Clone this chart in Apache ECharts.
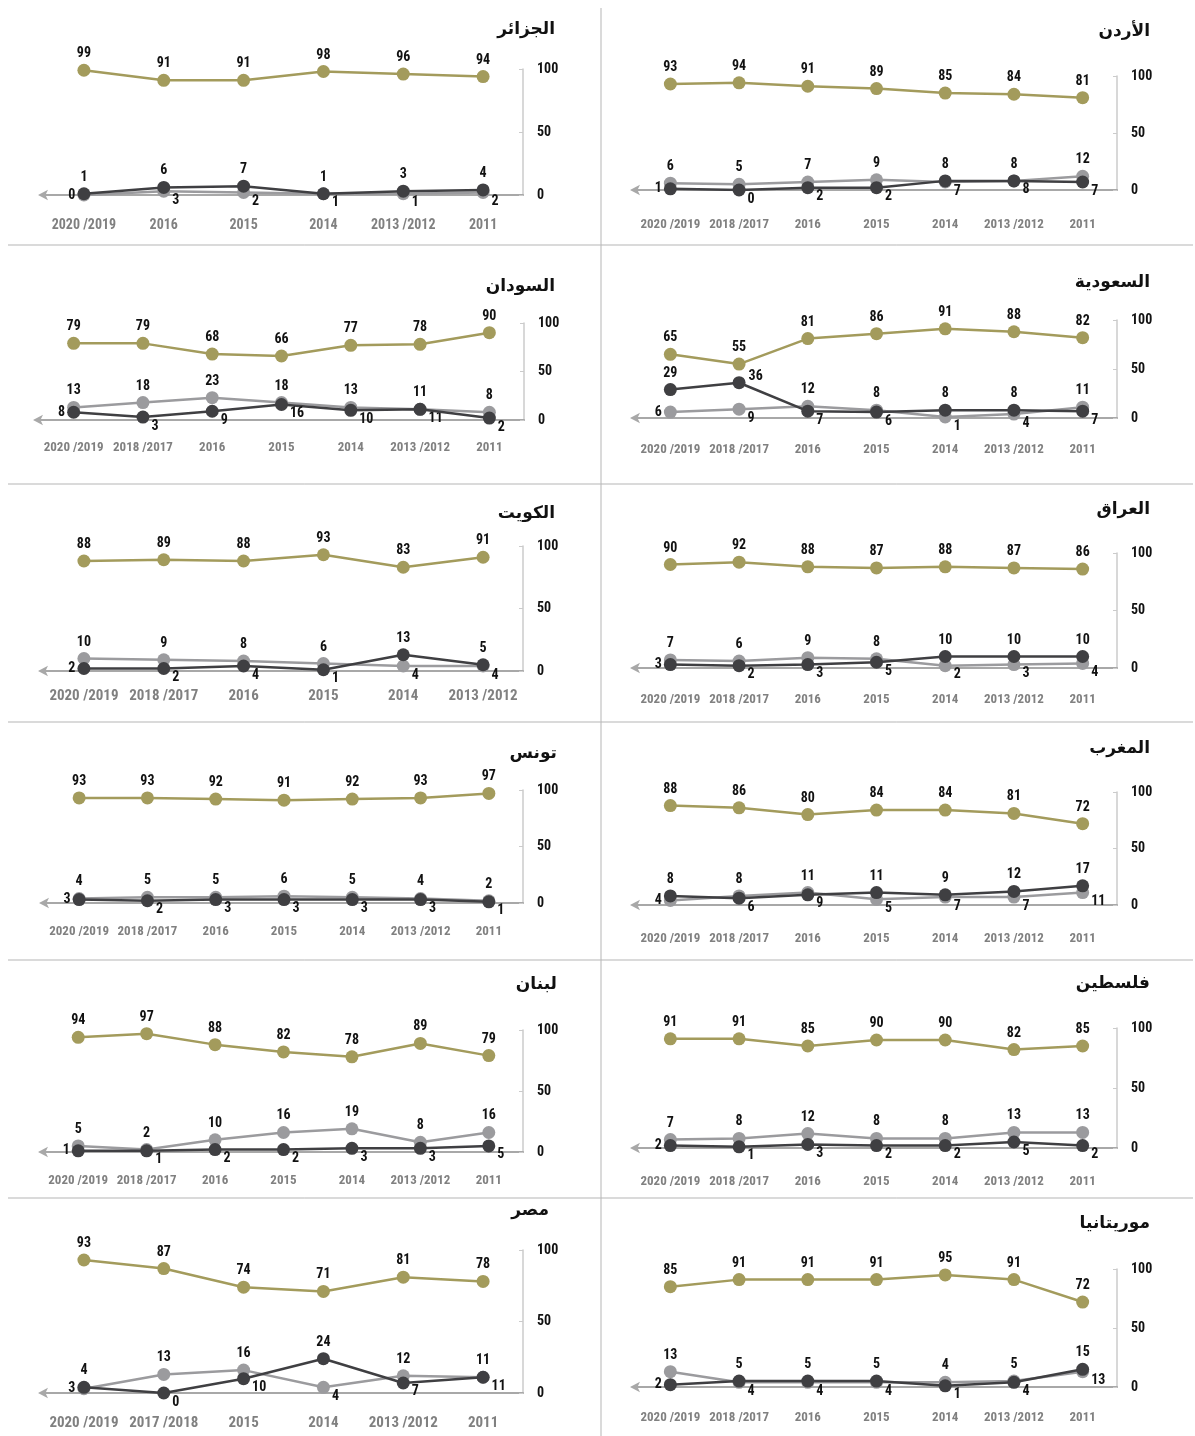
<!DOCTYPE html>
<html><head><meta charset="utf-8">
<script src="https://cdn.jsdelivr.net/npm/echarts@6/dist/echarts.min.js"></script>
<style>html,body{margin:0;padding:0;background:#fff}#c{width:1195px;height:1436px}</style>
</head><body><div id="c"></div>
<script>
// ---- categories ----
const cats7 = ['2020 /2019','2018 /2017','2016','2015','2014','2013 /2012','2011'];
const catsAlgeria = ['2020 /2019','2016','2015','2014','2013 /2012','2011'];
const catsKuwait = ['2020 /2019','2018 /2017','2016','2015','2014','2013 /2012'];
const catsEgypt = ['2020 /2019','2017 /2018','2015','2014','2013 /2012','2011'];
const yTicks = [0, 50, 100];

// ---- series values (olive / light gray / dark gray) ----
const algeriaOlive = [99,91,91,98,96,94];
const algeriaLight = [0,3,2,1,1,2];
const algeriaDark  = [1,6,7,1,3,4];

const jordanOlive = [93,94,91,89,85,84,81];
const jordanLight = [6,5,7,9,7,8,12];
const jordanDark  = [1,0,2,2,8,8,7];

const sudanOlive = [79,79,68,66,77,78,90];
const sudanLight = [13,18,23,18,13,11,8];
const sudanDark  = [8,3,9,16,10,11,2];

const saudiOlive = [65,55,81,86,91,88,82];
const saudiLight = [6,9,12,8,1,4,11];
const saudiDark  = [29,36,7,6,8,8,7];

const kuwaitOlive = [88,89,88,93,83,91];
const kuwaitLight = [10,9,8,6,4,4];
const kuwaitDark  = [2,2,4,1,13,5];

const iraqOlive = [90,92,88,87,88,87,86];
const iraqLight = [7,6,9,8,2,3,4];
const iraqDark  = [3,2,3,5,10,10,10];

const tunisiaOlive = [93,93,92,91,92,93,97];
const tunisiaLight = [4,5,5,6,5,4,2];
const tunisiaDark  = [3,2,3,3,3,3,1];

const moroccoOlive = [88,86,80,84,84,81,72];
const moroccoLight = [4,8,11,5,7,7,11];
const moroccoDark  = [8,6,9,11,9,12,17];

const lebanonOlive = [94,97,88,82,78,89,79];
const lebanonLight = [5,2,10,16,19,8,16];
const lebanonDark  = [1,1,2,2,3,3,5];

const palestineOlive = [91,91,85,90,90,82,85];
const palestineLight = [7,8,12,8,8,13,13];
const palestineDark  = [2,1,3,2,2,5,2];

const egyptOlive = [93,87,74,71,81,78];
const egyptLight = [3,13,16,4,12,11];
const egyptDark  = [4,0,10,24,7,11];

const mauritaniaOlive = [85,91,91,91,95,91,72];
const mauritaniaLight = [13,4,4,4,4,5,13];
const mauritaniaDark  = [2,5,5,5,1,4,15];

// ---- panels (data) ----
const panels = [
  {name:'الجزائر', cats:catsAlgeria, olive:algeriaOlive, light:algeriaLight, dark:algeriaDark},
  {name:'الأردن', cats:cats7, olive:jordanOlive, light:jordanLight, dark:jordanDark},
  {name:'السودان', cats:cats7, olive:sudanOlive, light:sudanLight, dark:sudanDark},
  {name:'السعودية', cats:cats7, olive:saudiOlive, light:saudiLight, dark:saudiDark},
  {name:'الكويت', cats:catsKuwait, olive:kuwaitOlive, light:kuwaitLight, dark:kuwaitDark},
  {name:'العراق', cats:cats7, olive:iraqOlive, light:iraqLight, dark:iraqDark},
  {name:'تونس', cats:cats7, olive:tunisiaOlive, light:tunisiaLight, dark:tunisiaDark},
  {name:'المغرب', cats:cats7, olive:moroccoOlive, light:moroccoLight, dark:moroccoDark},
  {name:'لبنان', cats:cats7, olive:lebanonOlive, light:lebanonLight, dark:lebanonDark},
  {name:'فلسطين', cats:cats7, olive:palestineOlive, light:palestineLight, dark:palestineDark},
  {name:'مصر', cats:catsEgypt, olive:egyptOlive, light:egyptLight, dark:egyptDark},
  {name:'موريتانيا', cats:cats7, olive:mauritaniaOlive, light:mauritaniaLight, dark:mauritaniaDark}
];

// ---- layout (positions / styles only) ----
const layout = [
  {x0:44, x1:523, y100:69, y0:195, tx:560, ty:28, gap:30, cf:14},
  {x0:636, x1:1117, y100:76, y0:190, tx:1155, ty:30, gap:35, cf:13},
  {x0:39, x1:524, y100:323, y0:420, tx:560, ty:285, gap:28, cf:13},
  {x0:636, x1:1117, y100:320, y0:418, tx:1155, ty:281, gap:32, cf:13},
  {x0:44, x1:523, y100:546, y0:671, tx:560, ty:512, gap:25, cf:15},
  {x0:636, x1:1117, y100:553, y0:668, tx:1155, ty:508, gap:32, cf:13},
  {x0:45, x1:523, y100:790, y0:903, tx:562, ty:752, gap:29, cf:13},
  {x0:636, x1:1117, y100:792, y0:905, tx:1155, ty:747, gap:34, cf:13},
  {x0:44, x1:523, y100:1030, y0:1152, tx:562, ty:983, gap:29, cf:13},
  {x0:636, x1:1117, y100:1028, y0:1148, tx:1155, ty:982, gap:34, cf:13},
  {x0:44, x1:523, y100:1250, y0:1393, tx:554, ty:1209, gap:30, cf:15},
  {x0:636, x1:1117, y100:1269, y0:1387, tx:1155, ty:1222, gap:31, cf:13}
];

const OLIVE = '#a39b5c', LIGHT = '#9b9b9e', DARK = '#3f3f42';
const NUMFONT = "'Liberation Sans Narrow','Roboto Condensed','Liberation Sans',sans-serif";
const W = 1195;

const grid = [], xAxis = [], yAxis = [], series = [], title = [];

function labelFor(i, isUpper, olivePos, v) {
  if (isUpper) {
    // avoid clashing with the olive label when the two are close
    if (olivePos - v < 25) return {position:'right', distance:3, offset:[0,-6]};
    return {position:'top', distance:3};
  }
  if (i === 0) return {position:'left', distance:2};
  return {position:'right', distance:2, offset:[0,9]};
}

panels.forEach((p, k) => {
  const L = layout[k];
  grid.push({left:L.x0, top:L.y100, width:L.x1 - L.x0, height:L.y0 - L.y100, containLabel:false});
  xAxis.push({
    type:'category', gridIndex:k, data:p.cats, boundaryGap:true,
    axisLine:{show:true, lineStyle:{color:'#a8a8a8', width:2}, symbol:['arrow','none'], symbolSize:[8,10], symbolOffset:[-6,0]},
    axisTick:{show:false},
    axisLabel:{color:'#808080', fontWeight:'bold', fontSize:L.cf, fontFamily:NUMFONT, margin:L.gap - 7, interval:0},
    splitLine:{show:false}
  });
  yAxis.push({
    type:'value', gridIndex:k, position:'right', min:0, max:100, interval:50,
    axisLine:{show:true, lineStyle:{color:'#cbcbcb', width:1.5}},
    axisTick:{show:true, length:4, inside:true, lineStyle:{color:'#cbcbcb'}},
    axisLabel:{color:'#111', fontWeight:'bold', fontSize:14, fontFamily:NUMFONT, margin:14,
      formatter: v => yTicks.includes(v) ? String(v) : ''},
    splitLine:{show:false}
  });
  title.push({text:p.name, right:W - L.tx, top:L.ty - 12,
    textStyle:{fontFamily:"'DejaVu Sans',sans-serif", fontWeight:'bold', fontSize:17, color:'#111'}});

  const baseLbl = {show:true, color:'#111', fontWeight:'bold', fontSize:14, fontFamily:NUMFONT};
  series.push({
    type:'line', xAxisIndex:k, yAxisIndex:k, data:p.olive, symbol:'circle', symbolSize:13,
    lineStyle:{color:OLIVE, width:2.5}, itemStyle:{color:OLIVE},
    label:Object.assign({}, baseLbl, {position:'top', distance:3}), z:3
  });
  const lightData = p.light.map((v,i) => ({value:v,
    label:labelFor(i, v > p.dark[i], p.olive[i], v)}));
  const darkData = p.dark.map((v,i) => ({value:v,
    label:labelFor(i, v >= p.light[i], p.olive[i], v)}));
  series.push({
    type:'line', xAxisIndex:k, yAxisIndex:k, data:lightData, symbol:'circle', symbolSize:13,
    lineStyle:{color:LIGHT, width:2.5}, itemStyle:{color:LIGHT}, label:baseLbl, z:4
  });
  series.push({
    type:'line', xAxisIndex:k, yAxisIndex:k, data:darkData, symbol:'circle', symbolSize:13,
    lineStyle:{color:DARK, width:2.5}, itemStyle:{color:DARK}, label:baseLbl, z:5
  });
});

// separators
const sepColor = '#b5b5b5';
const graphic = [
  {type:'line', shape:{x1:601, y1:8, x2:601, y2:1436}, style:{stroke:sepColor, lineWidth:1}}
];
[245, 484, 722, 960, 1198].forEach(y => graphic.push(
  {type:'line', shape:{x1:8, y1:y, x2:1193, y2:y}, style:{stroke:sepColor, lineWidth:1}}));

const chart = echarts.init(document.getElementById('c'), null, {renderer:'canvas'});
chart.setOption({animation:false, backgroundColor:'#fff', title, grid, xAxis, yAxis, series, graphic});
</script>
</body></html>
